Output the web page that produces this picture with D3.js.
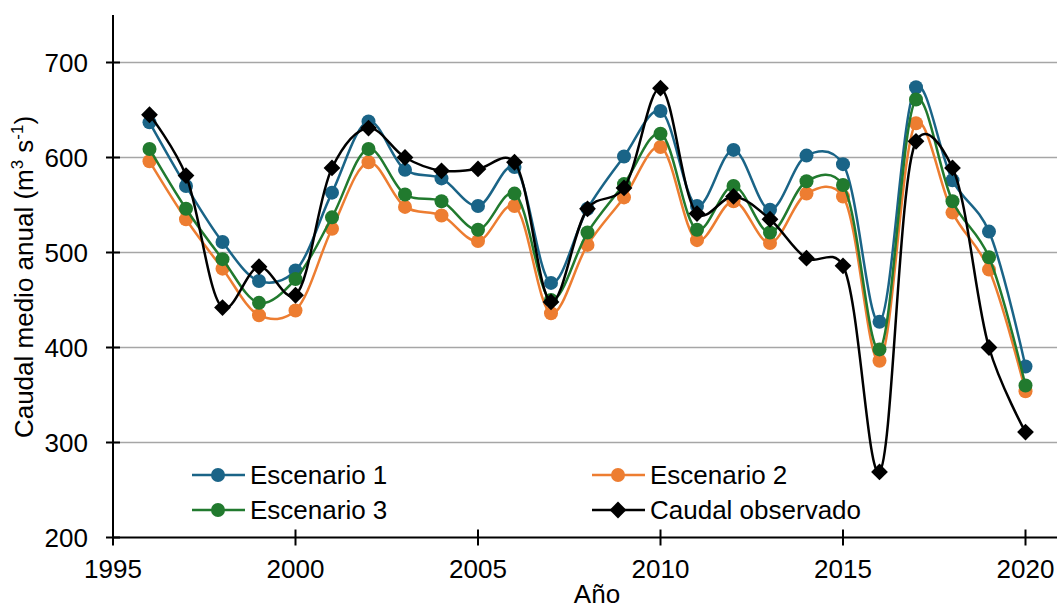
<!DOCTYPE html>
<html>
<head>
<meta charset="utf-8">
<script src="https://cdn.jsdelivr.net/npm/d3@7"></script>
<style>
  html, body { margin: 0; padding: 0; background: #fff; }
  svg { display: block; font-family: "Liberation Sans", Arial, sans-serif; }
</style>
</head>
<body>
<svg id="chart" width="1057" height="609"></svg>
<script>
const years = [1996,1997,1998,1999,2000,2001,2002,2003,2004,2005,2006,2007,2008,2009,2010,2011,2012,2013,2014,2015,2016,2017,2018,2019,2020];
const escenario1 = [637,570,511,470,481,563,638,587,578,549,590,468,546,601,649,549,608,545,602,593,427,674,576,522,380];
const escenario2 = [596,535,483,434,439,525,595,548,539,512,549,436,508,558,611,513,554,510,562,559,386,636,542,482,354];
const escenario3 = [609,546,493,447,472,537,609,561,554,524,562,450,521,572,625,524,570,521,575,571,398,661,554,495,360];
const observado = [645,581,442,485,455,589,631,600,586,588,595,448,546,568,673,541,559,535,494,486,269,617,589,400,311];
const xTicks = [1995,2000,2005,2010,2015,2020];
const yTicks = [200,300,400,500,600,700];
const seriesNames = ["Escenario 1","Escenario 2","Escenario 3","Caudal observado"];
const seriesColors = ["#1a6487","#ed7d31","#217a2e","#000000"];
const seriesValues = [escenario1, escenario2, escenario3, observado];

const svg = d3.select("#chart");
const x = d3.scaleLinear().domain([1995, 2021]).range([113, 1062]);
const y = d3.scaleLinear().domain([200, 750]).range([537.5, 15]);
const FS = 26;

// gridlines
svg.append("g").selectAll("line").data(yTicks.filter(d => d > 200)).join("line")
  .attr("x1", x(1995)).attr("x2", 1057)
  .attr("y1", d => y(d)).attr("y2", d => y(d))
  .attr("stroke", "#a6a6a6").attr("stroke-width", 1.5);

// series
const line = d3.line().x((d, i) => x(years[i])).y(d => y(d)).curve(d3.curveCatmullRom.alpha(0.25));
const gS = svg.append("g");
seriesValues.forEach((vals, k) => {
  const g = gS.append("g");
  g.append("path").attr("d", line(vals)).attr("fill", "none")
    .attr("stroke", seriesColors[k]).attr("stroke-width", 2.5);
  if (k < 3) {
    g.selectAll("circle").data(vals).join("circle")
      .attr("cx", (d, i) => x(years[i])).attr("cy", d => y(d)).attr("r", 7)
      .attr("fill", seriesColors[k]);
  } else {
    g.selectAll("path.m").data(vals).join("path").attr("class", "m")
      .attr("d", d3.symbol(d3.symbolDiamond2, 180)())
      .attr("transform", (d, i) => `translate(${x(years[i])},${y(d)})`)
      .attr("fill", "#000");
  }
});

// axes
const yAxis = svg.append("g");
yAxis.append("line").attr("x1", x(1995)).attr("x2", x(1995)).attr("y1", 15).attr("y2", y(200))
  .attr("stroke", "#000").attr("stroke-width", 2);
yAxis.selectAll("line.t").data(yTicks).join("line").attr("class", "t")
  .attr("x1", x(1995) - 7).attr("x2", x(1995) + 7)
  .attr("y1", d => y(d)).attr("y2", d => y(d)).attr("stroke", "#000").attr("stroke-width", 2);
yAxis.selectAll("text").data(yTicks).join("text")
  .attr("x", 88).attr("y", d => y(d)).attr("dy", "0.35em")
  .attr("text-anchor", "end").attr("font-size", FS).attr("fill", "#000").text(d => d);

const xAxis = svg.append("g");
xAxis.append("line").attr("x1", x(1995)).attr("x2", 1057).attr("y1", y(200)).attr("y2", y(200))
  .attr("stroke", "#000").attr("stroke-width", 2);
xAxis.selectAll("line.t").data(xTicks).join("line").attr("class", "t")
  .attr("x1", d => x(d)).attr("x2", d => x(d))
  .attr("y1", y(200) - 8).attr("y2", y(200) + 8).attr("stroke", "#000").attr("stroke-width", 2);
xAxis.selectAll("text").data(xTicks).join("text")
  .attr("x", d => x(d)).attr("y", 578)
  .attr("text-anchor", "middle").attr("font-size", FS).attr("fill", "#000").text(d => d);

// axis titles
svg.append("text").attr("x", 597).attr("y", 603).attr("text-anchor", "middle")
  .attr("font-size", FS).text("Año");
const yt = svg.append("text").attr("transform", "translate(33,277) rotate(-90)")
  .attr("text-anchor", "middle").attr("font-size", FS);
yt.append("tspan").text("Caudal medio anual (m");
yt.append("tspan").attr("font-size", FS * 0.65).attr("dy", -10).text("3");
yt.append("tspan").attr("dy", 10).text(" s");
yt.append("tspan").attr("font-size", FS * 0.65).attr("dy", -10).text("-1");
yt.append("tspan").attr("dy", 10).text(")");

// legend
const legendPos = [[192, 475], [592, 475], [192, 510], [592, 510]];
[0, 1, 2, 3].forEach((k, j) => {
  const [lx, ly] = legendPos[j];
  const g = svg.append("g");
  g.append("line").attr("x1", lx).attr("x2", lx + 53).attr("y1", ly).attr("y2", ly)
    .attr("stroke", seriesColors[k]).attr("stroke-width", 2.5);
  if (k < 3) {
    g.append("circle").attr("cx", lx + 26).attr("cy", ly).attr("r", 7).attr("fill", seriesColors[k]);
  } else {
    g.append("path").attr("d", d3.symbol(d3.symbolDiamond2, 180)())
      .attr("transform", `translate(${lx + 26},${ly})`).attr("fill", "#000");
  }
  g.append("text").attr("x", lx + 58).attr("y", ly).attr("dy", "0.35em")
    .attr("font-size", FS).attr("fill", "#000").text(seriesNames[k]);
});
</script>
</body>
</html>
